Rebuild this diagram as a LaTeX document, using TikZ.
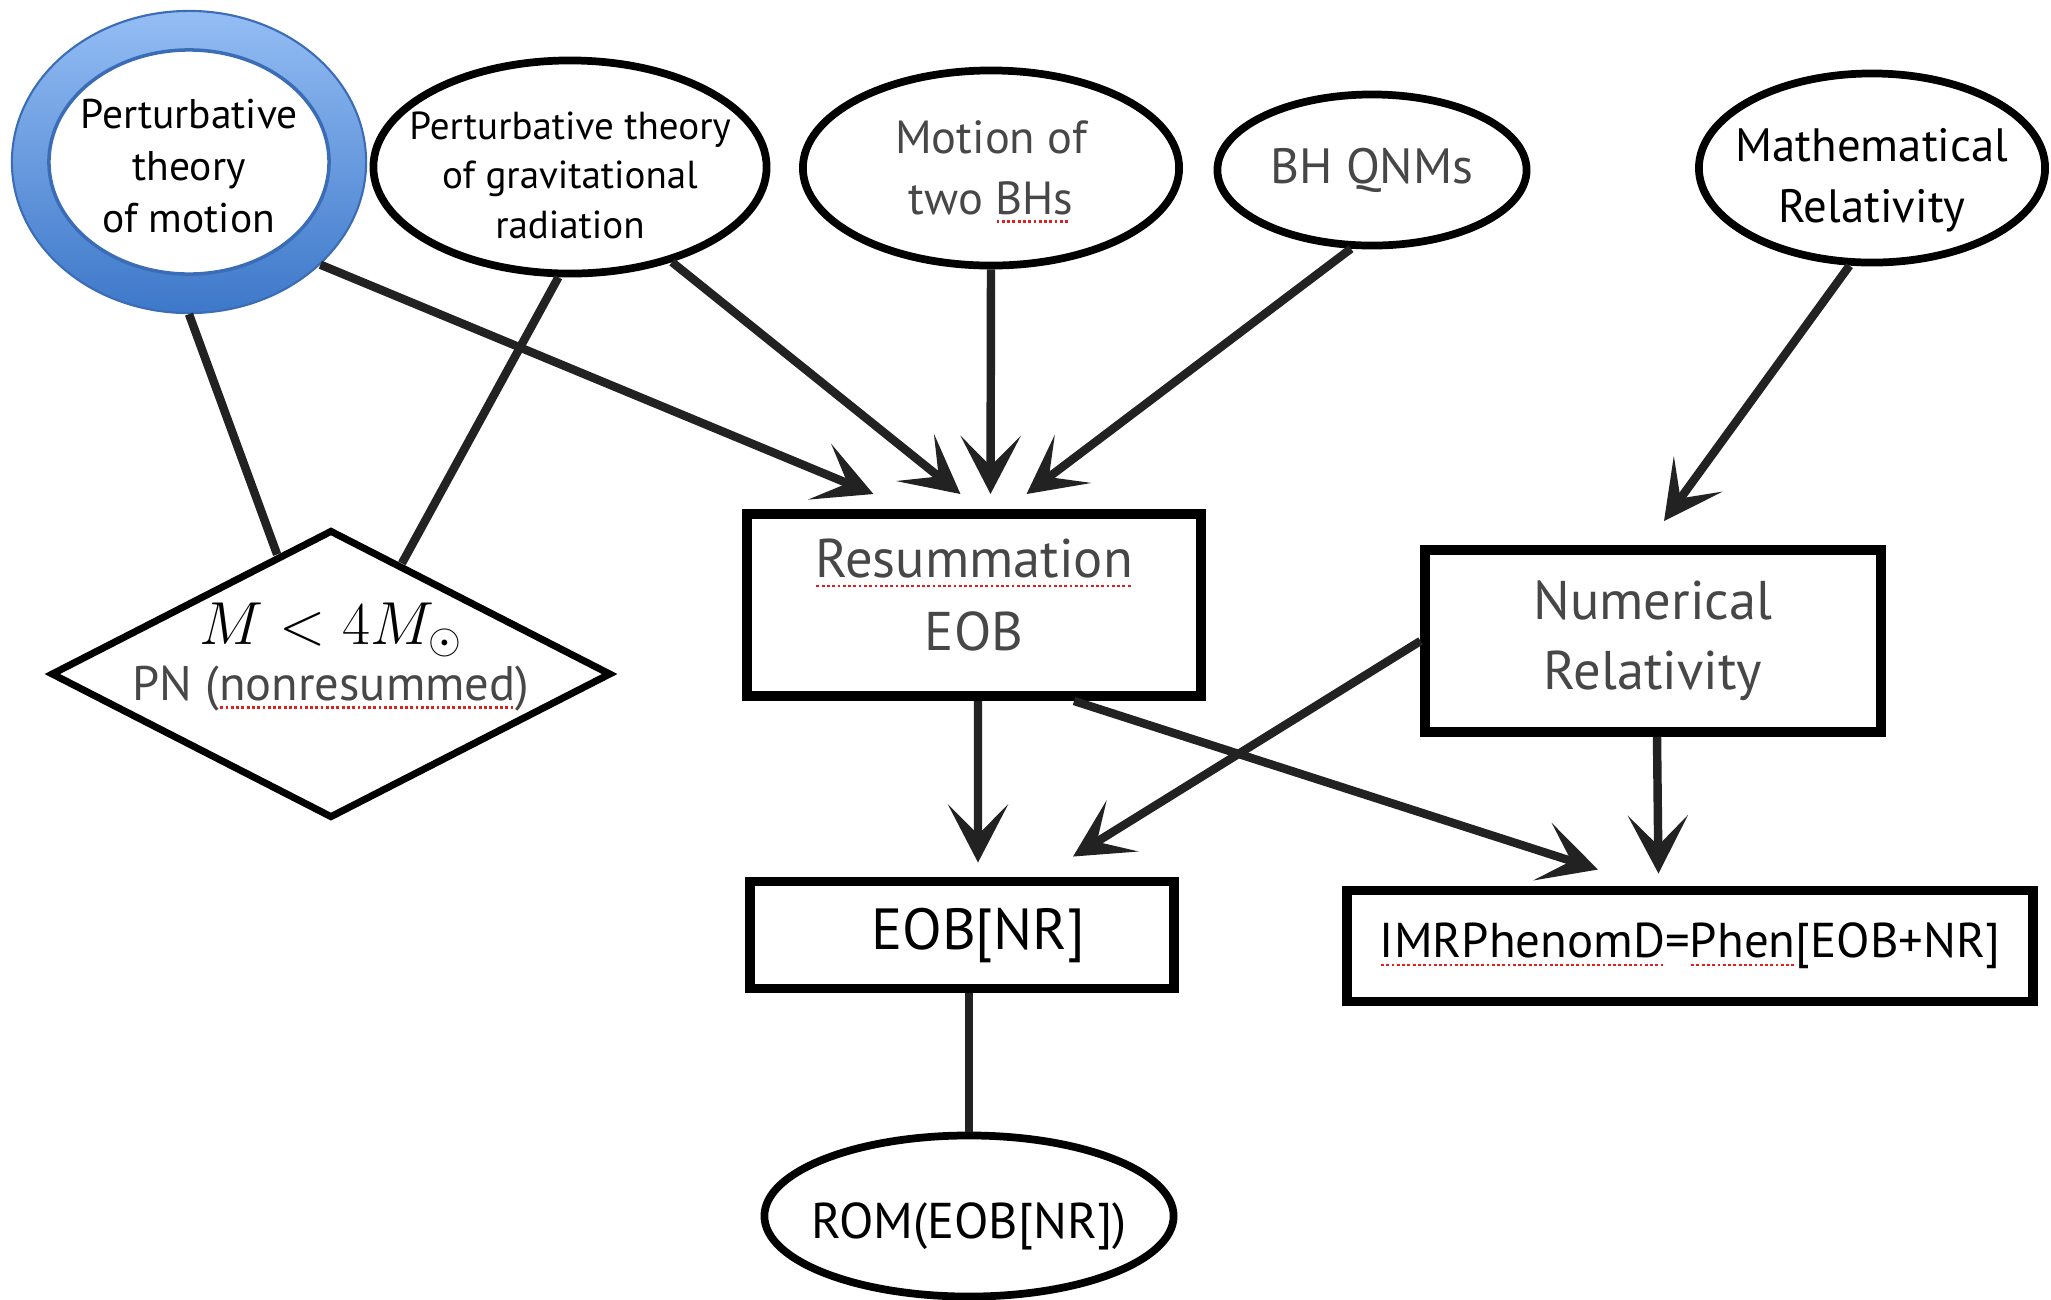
\documentclass[tikz,border=0pt]{standalone}
\usepackage{fontspec}
\setmainfont{PT Sans}
\usetikzlibrary{shapes.geometric,arrows.meta,calc}
\definecolor{ink}{HTML}{222222}
\definecolor{txtgray}{HTML}{474747}
\definecolor{ringtop}{HTML}{94BDF4}
\definecolor{ringbot}{HTML}{3D78C9}
\definecolor{ringedge}{HTML}{3A6DB5}
\definecolor{spellred}{HTML}{E02020}
\newsavebox{\myspellbox}
\newcommand\spellerr[1]{\leavevmode\sbox{\myspellbox}{#1}\rlap{\usebox{\myspellbox}}\raisebox{-0.35ex}[0pt][0pt]{\textcolor{spellred}{\hbox to\wd\myspellbox{\leaders\hbox to 1.5pt{\hss\rule{0.8pt}{0.8pt}\hss}\hfill}}}}
\begin{document}
\begin{tikzpicture}[x=0.01cm,y=-0.01cm,
  ell/.style={ellipse,draw=black,line width=2.2pt,fill=white,inner sep=0pt,align=center},
  box/.style={rectangle,draw=black,line width=2.8pt,fill=white,inner sep=0pt,align=center},
  txt/.style={inner sep=0pt,align=center},
  conn/.style={draw=ink,line width=2.4pt},
  arr/.style={conn,-{Stealth[length=0.58cm,width=0.6cm,inset=0.3cm]}},
]
\useasboundingbox (0,0) rectangle (2051,1299);

% top row
\node[ellipse,top color=ringtop,bottom color=ringbot,draw=ringedge,line width=0.6pt,
      minimum width=3.54cm,minimum height=3.02cm,inner sep=0pt,
      path picture={\draw[fill=white,line width=1pt] (path picture bounding box.center) ellipse [x radius=1.40cm,y radius=1.12cm];}]
  (n1) at (189,162) {};
\node[txt,font=\fontsize{11.8}{14.7}\selectfont] (n1t) at (189,166) {Perturbative\\theory\\of motion};
\node[ell,minimum width=3.93cm,minimum height=2.13cm] (n2) at (570,167) {};
\node[txt,font=\fontsize{11.1}{14.1}\selectfont] (n2t) at (570,175) {Perturbative theory\\of gravitational\\radiation};
\node[ell,minimum width=3.76cm,minimum height=1.95cm,text=txtgray,font=\fontsize{13.2}{17.5}\selectfont]
  (n3) at (991,168) {Motion of\\two \spellerr{BHs}};
\node[ell,minimum width=3.09cm,minimum height=1.51cm,text=txtgray,font=\fontsize{14.1}{17}\selectfont]
  (n4) at (1372,170) {BH QNMs};
\node[ell,minimum width=3.46cm,minimum height=1.89cm] (n5) at (1872,168) {};
\node[txt,font=\fontsize{13.3}{17.2}\selectfont] (n5t) at (1872,180) {Mathematical\\Relativity};

% diamond
\node[diamond,draw=black,line width=2pt,fill=white,inner sep=0pt,minimum width=5.6cm,minimum height=2.88cm]
  (dia) at (331,674) {};
\node[txt] (diatext) at (331,657)
  {{\fontsize{17.5}{20}\selectfont $M < 4M_{\odot}$}\\[1.5pt]
   {\fontsize{13.8}{16}\selectfont\color{txtgray}PN (\spellerr{nonresummed})}};

% boxes
\node[box,minimum width=4.53cm,minimum height=1.82cm] (res) at (974,605) {};
\node[txt,text=txtgray,font=\fontsize{15.5}{20.5}\selectfont] (rest) at (974,595) {\spellerr{Resummation}\\EOB};
\node[box,minimum width=4.55cm,minimum height=1.82cm,text=txtgray,font=\fontsize{15.5}{20}\selectfont]
  (nr) at (1653,641) {Numerical\\Relativity};
\node[box,minimum width=4.24cm,minimum height=1.07cm,font=\fontsize{16.5}{19}\selectfont]
  (eob) at (962,935) {\hspace*{0.32cm}EOB[NR]};
\node[box,minimum width=6.85cm,minimum height=1.11cm,font=\fontsize{13.9}{16}\selectfont]
  (imr) at (1690,946) {\spellerr{IMRPhenomD}=\spellerr{Phen}[EOB+NR]};
\node[ell,minimum width=4.09cm,minimum height=1.61cm] (rom) at (969,1216) {};
\node[txt,font=\fontsize{14.3}{16}\selectfont] (romt) at (969,1226) {ROM(EOB[NR])};

% connectors
\draw[conn] (n1.south) -- ($(dia.north)!0.19!(dia.west)$);
\draw[conn] (n2.-96) -- ($(dia.north)!0.25!(dia.east)$);
\draw[arr] (n1.-38) -- ([shift={(-1.005cm,0.15cm)}]res.north);
\draw[arr] (n2.-43) -- ([shift={(-0.135cm,0.15cm)}]res.north);
\draw[arr] (n3.south) -- ([shift={(0.165cm,0.15cm)}]res.north);
\draw[arr] (n4.-105) -- ([shift={(0.525cm,0.15cm)}]res.north);
\draw[arr] (n5.-103) -- ([shift={(0.11cm,0.24cm)}]nr.north);
\draw[arr] ([xshift=0.04cm]res.south) -- ([shift={(0.16cm,0.14cm)}]eob.north);
\draw[arr] (nr.west) -- ([shift={(1.11cm,0.2cm)}]eob.north);
\draw[arr] ([xshift=1.0cm]res.south) -- ([shift={(-0.92cm,0.16cm)}]imr.north);
\draw[arr] ([xshift=0.04cm]nr.south) -- ([shift={(-0.315cm,0.12cm)}]imr.north);
\draw[conn] (eob.south -| rom.north) -- (rom.north);
\end{tikzpicture}
\end{document}
